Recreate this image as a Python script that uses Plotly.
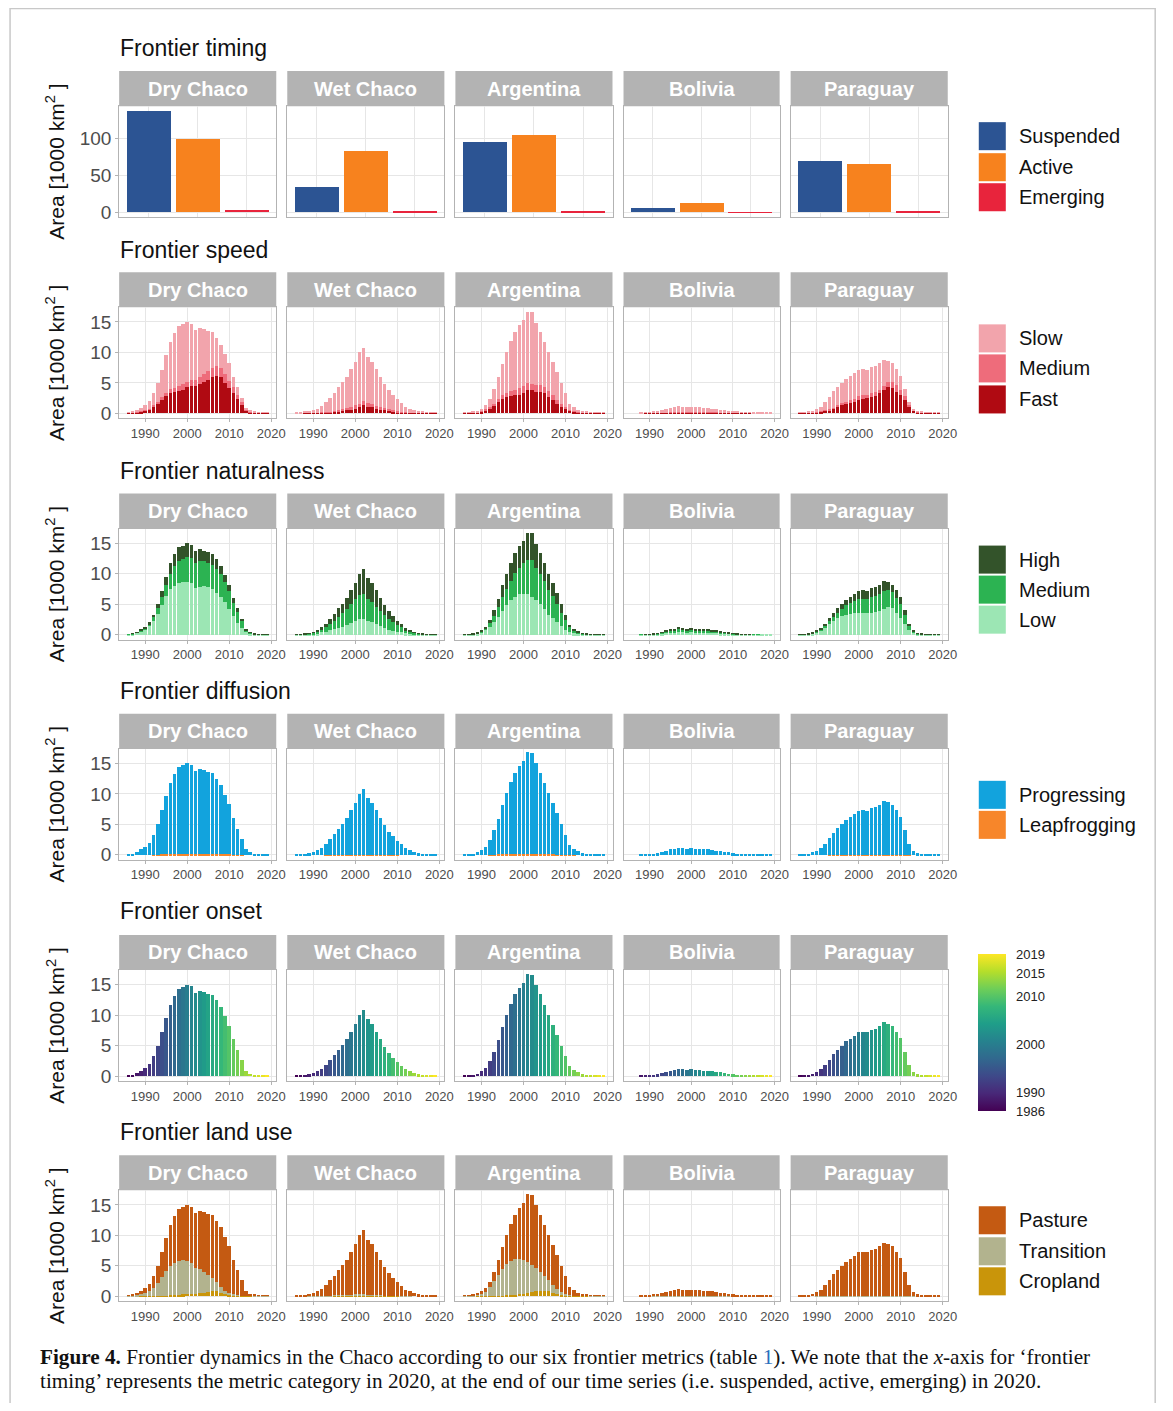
import plotly.graph_objects as go
from plotly.subplots import make_subplots

W, H = 1173, 1411          # browser window
OFF = 8                    # default page margin around the plot div
FW, FH = W - 2 * OFF, H - 2 * OFF
SX, SY = 0.9915, 0.9947    # measured page->picture scale of the photographed page

regions = ["Dry Chaco", "Wet Chaco", "Argentina", "Bolivia", "Paraguay"]
years = list(range(1986, 2020))

# ---------------- Frontier timing (category in 2020) ----------------
timing_categories = ["Suspended", "Active", "Emerging"]
timing_suspended = [136.5, 34, 95, 6, 68.5]
timing_active = [99, 82, 104, 12, 65.5]
timing_emerging = [3, 0.8, 0.8, 0.1, 2.2]

# ---------------- Total frontier area per year (1000 km2) ----------------
total_dry = [0.1,0.2,0.5,0.9,1.3,2.0,3.3,5.0,7.2,9.5,11.7,13.2,14.3,14.6,15.0,14.7,13.7,14.0,13.8,13.5,13.3,12.4,11.3,9.8,8.2,6.0,4.3,2.6,0.9,0.4,0.2,0.1,0.1,0.1]
total_wet = [0.05,0.1,0.2,0.3,0.5,0.8,1.2,1.8,2.6,3.4,4.3,5.1,6.0,7.3,8.5,10.0,10.8,9.3,8.5,7.3,6.0,4.8,3.8,3.0,2.3,1.7,1.1,0.8,0.5,0.3,0.2,0.1,0.1,0.1]
total_arg = [0.05,0.1,0.2,0.4,0.8,1.3,2.4,4.0,5.9,8.1,10.0,11.8,13.4,14.5,15.3,16.7,16.6,14.9,13.4,11.7,10.0,8.4,6.8,5.0,3.3,1.6,1.0,0.6,0.3,0.2,0.1,0.1,0.1,0.1]
total_bol = [0,0,0.02,0.05,0.1,0.2,0.3,0.5,0.7,0.9,1.0,1.2,1.1,1.0,1.1,1.0,1.0,0.9,0.9,0.8,0.7,0.6,0.5,0.4,0.3,0.2,0.1,0.05,0.1,0.03,0.02,0.01,0.01,0.01]
total_par = [0.05,0.1,0.2,0.4,0.7,1.1,1.8,2.7,3.6,4.3,5.0,5.7,6.1,6.6,7.2,7.3,7.2,7.6,7.8,8.2,8.8,8.6,8.2,7.3,6.2,4.0,1.8,0.7,0.3,0.2,0.1,0.1,0.1,0.05]

# ---------------- Frontier speed ----------------
speed_fast_dry = [0.02,0.05,0.15,0.25,0.35,0.6,1.0,1.5,2.2,2.8,3.3,3.5,3.7,3.9,4.3,4.5,4.5,4.9,5.2,5.5,6.0,6.1,5.9,5.0,4.1,3.4,2.3,1.3,0.4,0.1,0.05,0.02,0.02,0.02]
speed_medium_dry = [0.02,0.03,0.05,0.1,0.15,0.2,0.3,0.4,0.5,0.6,0.7,0.7,0.8,0.9,0.9,0.9,1.0,1.1,1.3,1.4,1.5,1.6,1.5,1.4,1.2,1.0,0.8,0.5,0.2,0.1,0.05,0.02,0.02,0.02]
speed_slow_dry = [0.06,0.12,0.3,0.55,0.8,1.2,2.0,3.1,4.5,6.1,7.7,9.0,9.8,9.8,9.8,9.3,8.2,8.0,7.3,6.6,5.8,4.7,3.9,3.4,2.9,1.6,1.2,0.8,0.3,0.2,0.1,0.06,0.06,0.06]

speed_fast_wet = [0,0,0.01,0.02,0.03,0.05,0.08,0.1,0.15,0.2,0.3,0.4,0.5,0.6,0.8,1.0,1.4,1.1,1.0,0.8,0.6,0.5,0.35,0.25,0.15,0.1,0.07,0.05,0.03,0.02,0.01,0.01,0.01,0.01]
speed_medium_wet = [0,0,0.01,0.02,0.03,0.05,0.07,0.1,0.15,0.2,0.25,0.3,0.35,0.4,0.5,0.6,0.6,0.55,0.5,0.45,0.4,0.35,0.3,0.25,0.2,0.15,0.1,0.07,0.05,0.03,0.02,0.01,0.01,0.01]
speed_slow_wet = [0.05,0.1,0.18,0.26,0.44,0.7,1.05,1.6,2.3,3.0,3.75,4.4,5.15,6.3,7.2,8.4,8.8,7.65,7.0,6.05,5.0,3.95,3.15,2.5,1.95,1.45,0.93,0.68,0.42,0.25,0.17,0.08,0.08,0.08]

speed_fast_arg = [0.01,0.02,0.05,0.1,0.3,0.5,0.8,1.2,1.9,2.4,2.7,2.8,3.0,3.1,3.4,3.8,3.8,3.5,3.5,3.3,2.7,2.2,1.5,1.1,0.65,0.4,0.2,0.1,0.05,0.03,0.02,0.01,0.01,0.01]
speed_medium_arg = [0.01,0.02,0.03,0.05,0.1,0.15,0.25,0.4,0.5,0.6,0.7,0.8,0.8,1.0,1.1,1.2,1.1,1.2,1.1,1.0,1.0,0.8,0.7,0.5,0.35,0.2,0.15,0.1,0.05,0.03,0.02,0.01,0.01,0.01]
speed_slow_arg = [0.03,0.06,0.12,0.25,0.4,0.65,1.35,2.4,3.5,5.1,6.6,8.2,9.6,10.4,10.8,11.7,11.7,10.2,8.8,7.4,6.3,5.4,4.6,3.4,2.3,1.0,0.65,0.4,0.2,0.14,0.06,0.08,0.08,0.08]

speed_fast_bol = [0,0,0,0.01,0.01,0.02,0.03,0.05,0.07,0.1,0.12,0.15,0.15,0.15,0.15,0.15,0.15,0.12,0.12,0.1,0.1,0.08,0.07,0.05,0.04,0.03,0.02,0.01,0.01,0,0,0,0,0]
speed_medium_bol = [0,0,0,0.01,0.01,0.02,0.03,0.04,0.05,0.07,0.08,0.1,0.1,0.1,0.1,0.1,0.1,0.08,0.08,0.07,0.06,0.05,0.04,0.03,0.03,0.02,0.01,0.01,0.01,0,0,0,0,0]
speed_slow_bol = [0,0,0.02,0.03,0.08,0.16,0.24,0.41,0.58,0.73,0.8,0.95,0.85,0.75,0.85,0.75,0.75,0.7,0.7,0.63,0.54,0.47,0.39,0.32,0.23,0.15,0.07,0.03,0.08,0.03,0.02,0.01,0.01,0.01]

speed_fast_par = [0.01,0.02,0.04,0.08,0.15,0.25,0.35,0.5,0.7,1.0,1.3,1.5,1.7,1.9,2.2,2.4,2.5,2.7,2.9,3.3,3.8,4.3,4.2,3.5,3.0,2.2,1.1,0.4,0.15,0.08,0.04,0.03,0.03,0.02]
speed_medium_par = [0.01,0.02,0.03,0.05,0.08,0.1,0.15,0.2,0.25,0.3,0.35,0.4,0.45,0.5,0.6,0.6,0.6,0.6,0.6,0.6,0.7,0.9,1.0,1.2,0.9,0.7,0.3,0.1,0.05,0.03,0.02,0.01,0.01,0.01]
speed_slow_par = [0.03,0.06,0.13,0.27,0.47,0.75,1.3,2.0,2.65,3.0,3.35,3.8,3.95,4.2,4.4,4.3,4.1,4.3,4.3,4.3,4.3,3.4,3.0,2.6,2.3,1.1,0.4,0.2,0.1,0.09,0.04,0.06,0.06,0.02]

# ---------------- Frontier naturalness ----------------
nat_low_dry = [0.08,0.15,0.35,0.6,0.9,1.4,2.3,3.4,4.9,6.4,7.5,8.0,8.4,8.6,8.7,8.4,7.7,7.8,7.9,7.8,7.5,6.9,6.2,5.3,4.2,3.1,1.9,1.1,0.4,0.2,0.1,0.05,0.05,0.05]
nat_medium_dry = [0.02,0.03,0.07,0.18,0.25,0.4,0.6,0.9,1.3,1.8,2.5,3.3,3.7,3.8,4.1,4.2,4.1,4.2,4.1,3.9,4.0,3.9,3.7,3.3,2.9,2.1,1.8,1.1,0.4,0.15,0.07,0.03,0.03,0.03]
nat_high_dry = [0.0,0.02,0.08,0.12,0.15,0.2,0.4,0.7,1.0,1.3,1.7,1.9,2.2,2.2,2.2,2.1,1.9,2.0,1.8,1.8,1.8,1.6,1.4,1.2,1.1,0.8,0.6,0.4,0.1,0.05,0.03,0.02,0.02,0.02]

nat_low_wet = [0.02,0.04,0.07,0.1,0.15,0.25,0.35,0.5,0.7,0.9,1.1,1.3,1.6,1.9,2.3,2.5,2.5,2.2,2.0,1.7,1.4,1.1,0.8,0.6,0.45,0.35,0.2,0.15,0.1,0.05,0.04,0.02,0.02,0.02]
nat_medium_wet = [0.02,0.04,0.08,0.12,0.2,0.3,0.45,0.7,1.0,1.4,1.8,2.2,2.6,3.1,3.5,4.0,4.2,3.6,3.3,2.9,2.5,2.1,1.8,1.5,1.15,0.85,0.6,0.4,0.25,0.15,0.1,0.05,0.05,0.05]
nat_high_wet = [0.01,0.02,0.05,0.08,0.15,0.25,0.4,0.6,0.9,1.1,1.4,1.6,1.8,2.3,2.7,3.5,4.1,3.5,3.2,2.7,2.1,1.6,1.2,0.9,0.7,0.5,0.3,0.25,0.15,0.1,0.06,0.03,0.03,0.03]

nat_low_arg = [0.03,0.06,0.12,0.25,0.45,0.7,1.3,2.0,2.9,3.9,4.8,5.6,6.2,6.6,6.7,6.6,6.2,5.7,5.0,4.2,3.3,2.8,2.1,1.4,0.8,0.5,0.3,0.2,0.1,0.07,0.04,0.04,0.04,0.04]
nat_medium_arg = [0.01,0.02,0.04,0.07,0.2,0.35,0.6,1.1,1.6,2.2,2.7,3.2,3.9,4.4,5.0,5.7,6.0,5.3,5.0,4.6,4.1,3.5,2.9,2.2,1.6,0.7,0.45,0.25,0.12,0.08,0.03,0.03,0.03,0.03]
nat_high_arg = [0.01,0.02,0.04,0.08,0.15,0.25,0.5,0.9,1.4,2.0,2.5,3.0,3.3,3.5,3.6,4.4,4.4,3.9,3.4,2.9,2.6,2.1,1.8,1.4,0.9,0.4,0.25,0.15,0.08,0.05,0.03,0.03,0.03,0.03]

nat_low_bol = [0,0,0.01,0.03,0.05,0.1,0.15,0.25,0.35,0.45,0.5,0.55,0.55,0.5,0.55,0.5,0.5,0.45,0.45,0.4,0.35,0.3,0.25,0.2,0.15,0.1,0.05,0.03,0.05,0.02,0.01,0.01,0.01,0.01]
nat_medium_bol = [0,0,0.01,0.01,0.03,0.05,0.08,0.13,0.18,0.23,0.25,0.3,0.28,0.25,0.28,0.25,0.25,0.23,0.23,0.2,0.18,0.15,0.13,0.1,0.08,0.05,0.03,0.01,0.03,0.01,0.01,0,0,0]
nat_high_bol = [0,0,0,0.01,0.02,0.05,0.07,0.12,0.17,0.22,0.25,0.35,0.27,0.25,0.27,0.25,0.25,0.22,0.22,0.2,0.17,0.15,0.12,0.1,0.07,0.05,0.02,0.01,0.02,0,0,0,0,0]

nat_low_par = [0.03,0.06,0.12,0.25,0.45,0.7,1.1,1.7,2.3,2.8,3.0,3.3,3.4,3.5,3.6,3.6,3.5,3.6,3.7,3.9,4.2,4.6,4.4,3.6,2.8,1.7,0.8,0.35,0.15,0.1,0.05,0.05,0.05,0.03]
nat_medium_par = [0.01,0.02,0.04,0.07,0.12,0.2,0.35,0.5,0.65,0.8,1.2,1.5,1.8,2.0,2.2,2.3,2.4,2.6,2.7,2.7,3.0,2.8,2.6,2.4,2.2,1.6,0.7,0.2,0.08,0.05,0.03,0.03,0.03,0.01]
nat_high_par = [0.01,0.02,0.04,0.08,0.13,0.2,0.35,0.5,0.65,0.7,0.8,0.9,0.9,1.1,1.4,1.4,1.3,1.4,1.4,1.6,1.6,1.2,1.2,1.3,1.2,0.7,0.3,0.15,0.07,0.05,0.02,0.02,0.02,0.01]

# ---------------- Frontier diffusion ----------------
diff_leap_dry = [0,0,0,0,0,0,0.02,0.05,0.08,0.1,0.12,0.12,0.12,0.12,0.12,0.12,0.12,0.12,0.12,0.12,0.12,0.12,0.1,0.08,0.06,0.04,0.02,0.01,0,0,0,0,0,0]
diff_leap_wet = [0,0,0,0,0,0,0,0.01,0.01,0.02,0.02,0.03,0.03,0.03,0.03,0.03,0.03,0.03,0.03,0.02,0.02,0.02,0.01,0.01,0.01,0,0,0,0,0,0,0,0,0]
diff_leap_arg = [0,0,0,0,0,0,0.02,0.04,0.06,0.08,0.1,0.1,0.1,0.1,0.1,0.1,0.1,0.1,0.1,0.08,0.08,0.06,0.05,0.04,0.03,0.02,0.01,0,0,0,0,0,0,0]
diff_leap_bol = [0]*34
diff_leap_par = [0,0,0,0,0,0,0,0.01,0.02,0.03,0.03,0.04,0.04,0.04,0.04,0.04,0.04,0.04,0.04,0.04,0.04,0.04,0.04,0.03,0.03,0.02,0.01,0,0,0,0,0,0,0]

# ---------------- Frontier land use ----------------
land_crop_dry = [0,0,0,0.01,0.02,0.03,0.05,0.07,0.1,0.12,0.15,0.2,0.25,0.3,0.35,0.4,0.45,0.5,0.6,0.7,0.8,0.8,0.6,0.4,0.25,0.15,0.08,0.05,0.02,0.01,0,0,0,0]
land_trans_dry = [0.02,0.05,0.15,0.29,0.48,0.77,1.35,2.13,3.1,4.08,4.85,5.3,5.55,5.6,5.45,5.0,4.25,3.9,3.4,2.8,2.2,1.5,0.9,0.5,0.25,0.15,0.07,0.05,0.03,0.01,0.01,0.01,0.01,0.01]
land_past_dry = [0.08,0.15,0.35,0.6,0.8,1.2,1.9,2.8,4.0,5.3,6.7,7.7,8.5,8.7,9.2,9.3,9.0,9.6,9.8,10.0,10.3,10.1,9.8,8.9,7.7,5.7,4.15,2.5,0.85,0.38,0.19,0.09,0.09,0.09]

land_crop_wet = [0,0,0,0,0,0,0,0,0,0.01,0.01,0.01,0.02,0.02,0.02,0.03,0.03,0.03,0.03,0.03,0.02,0.02,0.02,0.01,0.01,0,0,0,0,0,0,0,0,0]
land_trans_wet = [0,0,0,0.01,0.02,0.03,0.05,0.07,0.1,0.12,0.15,0.2,0.22,0.25,0.28,0.3,0.3,0.25,0.2,0.15,0.12,0.1,0.08,0.05,0.03,0.02,0.01,0.01,0,0,0,0,0,0]
land_past_wet = [0.05,0.1,0.2,0.29,0.48,0.77,1.15,1.73,2.5,3.27,4.14,4.89,5.76,7.03,8.2,9.67,10.47,9.02,8.27,7.12,5.86,4.68,3.7,2.94,2.26,1.68,1.09,0.79,0.5,0.3,0.2,0.1,0.1,0.1]

land_crop_arg = [0,0,0,0.01,0.02,0.03,0.05,0.07,0.1,0.12,0.15,0.2,0.25,0.35,0.45,0.55,0.65,0.8,0.85,0.9,0.8,0.6,0.4,0.25,0.15,0.08,0.05,0.03,0.02,0.01,0,0,0,0]
land_trans_arg = [0.02,0.05,0.1,0.19,0.38,0.67,1.45,2.43,3.4,4.38,5.15,5.6,5.85,5.75,5.55,5.15,4.55,3.8,3.15,2.4,1.8,1.2,0.8,0.45,0.25,0.12,0.05,0.03,0.01,0.01,0.01,0.01,0.01,0.01]
land_past_arg = [0.03,0.05,0.1,0.2,0.4,0.6,0.9,1.5,2.4,3.6,4.7,6.0,7.3,8.4,9.3,11.0,11.4,10.3,9.4,8.4,7.4,6.6,5.6,4.3,2.9,1.4,0.9,0.54,0.27,0.18,0.09,0.09,0.09,0.09]

land_crop_bol = [0]*34
land_trans_bol = [0,0,0,0,0,0.01,0.01,0.01,0.02,0.02,0.02,0.02,0.02,0.02,0.02,0.02,0.02,0.02,0.02,0.01,0.01,0.01,0.01,0.01,0,0,0,0,0,0,0,0,0,0]
land_past_bol = [0,0,0.02,0.05,0.1,0.19,0.29,0.49,0.68,0.88,0.98,1.18,1.08,0.98,1.08,0.98,0.98,0.88,0.88,0.79,0.69,0.59,0.49,0.39,0.3,0.2,0.1,0.05,0.1,0.03,0.02,0.01,0.01,0.01]

land_crop_par = [0]*34
land_trans_par = [0,0,0,0,0.01,0.02,0.03,0.05,0.06,0.08,0.1,0.1,0.1,0.1,0.1,0.1,0.1,0.1,0.1,0.1,0.1,0.1,0.1,0.08,0.06,0.04,0.02,0.01,0,0,0,0,0,0]
land_past_par = [0.05,0.1,0.2,0.4,0.69,1.08,1.77,2.65,3.54,4.22,4.9,5.6,6.0,6.5,7.1,7.2,7.1,7.5,7.7,8.1,8.7,8.5,8.1,7.22,6.14,3.96,1.78,0.69,0.3,0.2,0.1,0.1,0.1,0.05]

# colour-bar ticks for the onset year scale
onset_ticks = [1986, 1990, 2000, 2010, 2015, 2019]

# ---------------- assemble per region ----------------
totals = dict(zip(regions, [total_dry, total_wet, total_arg, total_bol, total_par]))
speed = {
    "Dry Chaco": (speed_fast_dry, speed_medium_dry, speed_slow_dry),
    "Wet Chaco": (speed_fast_wet, speed_medium_wet, speed_slow_wet),
    "Argentina": (speed_fast_arg, speed_medium_arg, speed_slow_arg),
    "Bolivia": (speed_fast_bol, speed_medium_bol, speed_slow_bol),
    "Paraguay": (speed_fast_par, speed_medium_par, speed_slow_par),
}
nat = {
    "Dry Chaco": (nat_low_dry, nat_medium_dry, nat_high_dry),
    "Wet Chaco": (nat_low_wet, nat_medium_wet, nat_high_wet),
    "Argentina": (nat_low_arg, nat_medium_arg, nat_high_arg),
    "Bolivia": (nat_low_bol, nat_medium_bol, nat_high_bol),
    "Paraguay": (nat_low_par, nat_medium_par, nat_high_par),
}
leap = dict(zip(regions, [diff_leap_dry, diff_leap_wet, diff_leap_arg, diff_leap_bol, diff_leap_par]))
land = {
    "Dry Chaco": (land_crop_dry, land_trans_dry, land_past_dry),
    "Wet Chaco": (land_crop_wet, land_trans_wet, land_past_wet),
    "Argentina": (land_crop_arg, land_trans_arg, land_past_arg),
    "Bolivia": (land_crop_bol, land_trans_bol, land_past_bol),
    "Paraguay": (land_crop_par, land_trans_par, land_past_par),
}

C_TIMING = ["#2C5493", "#F7821E", "#E8243C"]
C_SPEED = {"Fast": "#B00A12", "Medium": "#EE6C7B", "Slow": "#F2A4AC"}
C_NAT = {"Low": "#9CE6B4", "Medium": "#2CB352", "High": "#33532A"}
C_DIFF = {"Leapfrogging": "#F7862A", "Progressing": "#12A3DD"}
C_LAND = {"Cropland": "#C9950A", "Transition": "#B2B38E", "Pasture": "#C45A12"}

BAR_W = 0.82

# ---------------- layout geometry (picture pixels) ----------------
cols_px = [(119, 276), (287, 444), (455, 612), (623, 779), (790, 947)]
rows_px = [(106, 217), (307, 418), (528, 639), (748, 859), (969, 1080), (1189, 1300)]
strip_h = 35
row_titles = ["Frontier timing", "Frontier speed", "Frontier naturalness",
              "Frontier diffusion", "Frontier onset", "Frontier land use"]
row_title_y = [48, 250, 470, 690, 910, 1131]
CB_X0, CB_X1, CB_TOP, CB_BOT = 977, 1005, 953, 1110

fig = make_subplots(rows=6, cols=5)

def px2x(p):
    return (p / SX - OFF) / FW

def px2y(p):
    return 1 - (p / SY - OFF) / FH

FONT = "Liberation Sans, Arial, sans-serif"
GRID = "#E6E6E6"
BORDER = "#B3B3B3"

# ---- traces ----
for ci, reg in enumerate(regions):
    c = ci + 1
    vals = [timing_suspended[ci], timing_active[ci], timing_emerging[ci]]
    for k, cat in enumerate(timing_categories):
        fig.add_trace(go.Bar(x=[cat], y=[vals[k]], width=0.9, marker=dict(color=C_TIMING[k], line=dict(width=0)),
                             showlegend=False, name=cat), row=1, col=c)
    f, m, s = speed[reg]
    for name, arr in (("Fast", f), ("Medium", m), ("Slow", s)):
        fig.add_trace(go.Bar(x=years, y=arr, width=BAR_W, marker=dict(color=C_SPEED[name], line=dict(width=0)),
                             showlegend=False, name=name), row=2, col=c)
    lo, me, hi = nat[reg]
    for name, arr in (("Low", lo), ("Medium", me), ("High", hi)):
        fig.add_trace(go.Bar(x=years, y=arr, width=BAR_W, marker=dict(color=C_NAT[name], line=dict(width=0)),
                             showlegend=False, name=name), row=3, col=c)
    fig.add_trace(go.Bar(x=years, y=leap[reg], width=BAR_W, marker=dict(color=C_DIFF["Leapfrogging"], line=dict(width=0)),
                         showlegend=False, name="Leapfrogging"), row=4, col=c)
    fig.add_trace(go.Bar(x=years, y=totals[reg], width=BAR_W, marker=dict(color=C_DIFF["Progressing"], line=dict(width=0)),
                         showlegend=False, name="Progressing"), row=4, col=c)
    marker = dict(color=years, colorscale="Viridis", cmin=1986, cmax=2019, line=dict(width=0))
    if ci == 0:
        y_top, y_bot = px2y(CB_TOP), px2y(CB_BOT)
        marker.update(showscale=True, colorbar=dict(
            x=px2x(CB_X0), xanchor="left", xpad=0, ypad=0,
            y=(y_top + y_bot) / 2, yanchor="middle", len=(y_top - y_bot), lenmode="fraction",
            thickness=28, thicknessmode="pixels", outlinewidth=0,
            tickvals=onset_ticks,
            ticks="outside", ticklen=8, tickcolor="rgba(255,255,255,0)", tickwidth=1,
            tickfont=dict(family=FONT, size=13, color="#222222")))
    else:
        marker.update(showscale=False)
    fig.add_trace(go.Bar(x=years, y=totals[reg], width=BAR_W, marker=marker, showlegend=False, name="Onset"),
                  row=5, col=c)
    cr, tr, pa = land[reg]
    for name, arr in (("Cropland", cr), ("Transition", tr), ("Pasture", pa)):
        fig.add_trace(go.Bar(x=years, y=arr, width=BAR_W, marker=dict(color=C_LAND[name], line=dict(width=0)),
                             showlegend=False, name=name), row=6, col=c)

# ---- axes ----
for ri in range(6):
    r = ri + 1
    top, bot = rows_px[ri]
    for ci in range(5):
        c = ci + 1
        x0, x1 = cols_px[ci]
        common = dict(showline=True, mirror=True, linecolor=BORDER, linewidth=1,
                      gridcolor=GRID, gridwidth=1, zeroline=False)
        if ri == 0:
            fig.update_xaxes(domain=[px2x(x0), px2x(x1)], type="category",
                             categoryorder="array", categoryarray=timing_categories,
                             range=[-0.6, 2.6], showticklabels=False, ticks="", **common, row=r, col=c)
            fig.update_yaxes(domain=[px2y(bot), px2y(top)], range=[-6.8, 143.2],
                             tickvals=[0, 50, 100], showticklabels=(ci == 0),
                             ticks="outside" if ci == 0 else "", ticklen=3, tickcolor=BORDER,
                             tickfont=dict(family=FONT, size=19, color="#4D4D4D"), **common, row=r, col=c)
        else:
            fig.update_xaxes(domain=[px2x(x0), px2x(x1)], range=[1983.8, 2021.2],
                             tickvals=[1990, 2000, 2010, 2020], ticks="outside", ticklen=3, tickcolor=BORDER,
                             tickfont=dict(family=FONT, size=13, color="#4D4D4D"), **common, row=r, col=c)
            fig.update_yaxes(domain=[px2y(bot), px2y(top)], range=[-0.83, 17.4],
                             tickvals=[0, 5, 10, 15], showticklabels=(ci == 0),
                             ticks="outside" if ci == 0 else "", ticklen=3, tickcolor=BORDER,
                             tickfont=dict(family=FONT, size=19, color="#4D4D4D"), **common, row=r, col=c)

shapes = []
annotations = []

# frame
shapes.append(dict(type="rect", xref="paper", yref="paper", x0=px2x(10), x1=min(px2x(1165), 0.9993),
                   y0=-0.05, y1=px2y(8.5), line=dict(color="#C8C8C8", width=1.5), fillcolor="rgba(0,0,0,0)"))

# small white tick marks inside the colour bar (both edges)
for v in onset_ticks:
    yp = CB_BOT - (v - 1986) / (2019 - 1986) * (CB_BOT - CB_TOP)
    for xa, xb in ((CB_X0, CB_X0 + 5), (CB_X1 - 5, CB_X1)):
        shapes.append(dict(type="line", xref="paper", yref="paper", x0=px2x(xa), x1=px2x(xb),
                           y0=px2y(yp), y1=px2y(yp), line=dict(color="rgba(255,255,255,0.8)", width=1)))

for ri in range(6):
    top, bot = rows_px[ri]
    for ci, reg in enumerate(regions):
        x0, x1 = cols_px[ci]
        shapes.append(dict(type="rect", xref="paper", yref="paper", x0=px2x(x0), x1=px2x(x1),
                           y0=px2y(top), y1=px2y(top - strip_h), fillcolor="#B3B3B3", line=dict(width=0),
                           layer="below"))
        annotations.append(dict(xref="paper", yref="paper", x=px2x((x0 + x1) / 2), y=px2y(top - strip_h / 2),
                                text="<b>%s</b>" % reg, showarrow=False, xanchor="center", yanchor="middle",
                                font=dict(family=FONT, size=20, color="white")))
    annotations.append(dict(xref="paper", yref="paper", x=px2x(118), y=px2y(row_title_y[ri]),
                            text=row_titles[ri], showarrow=False, xanchor="left", yanchor="middle",
                            font=dict(family=FONT, size=23, color="#111111")))
    annotations.append(dict(xref="paper", yref="paper", x=px2x(55), y=px2y((top + bot) / 2),
                            text="Area [1000 km<sup>2</sup> ]", textangle=-90, showarrow=False,
                            xanchor="center", yanchor="middle",
                            font=dict(family=FONT, size=21, color="#111111")))

legend_items = [
    [("Suspended", C_TIMING[0], 136), ("Active", C_TIMING[1], 167), ("Emerging", C_TIMING[2], 197)],
    [("Slow", C_SPEED["Slow"], 338), ("Medium", C_SPEED["Medium"], 368), ("Fast", C_SPEED["Fast"], 399)],
    [("High", C_NAT["High"], 559), ("Medium", C_NAT["Medium"], 589), ("Low", C_NAT["Low"], 619)],
    [("Progressing", C_DIFF["Progressing"], 794), ("Leapfrogging", C_DIFF["Leapfrogging"], 824)],
    [("Pasture", C_LAND["Pasture"], 1219), ("Transition", C_LAND["Transition"], 1250), ("Cropland", C_LAND["Cropland"], 1280)],
]
for group in legend_items:
    for label, col, yc in group:
        shapes.append(dict(type="rect", xref="paper", yref="paper", x0=px2x(978), x1=px2x(1005),
                           y0=px2y(yc + 14), y1=px2y(yc - 14), fillcolor=col, line=dict(width=0)))
        annotations.append(dict(xref="paper", yref="paper", x=px2x(1016), y=px2y(yc), text=label,
                                showarrow=False, xanchor="left", yanchor="middle",
                                font=dict(family=FONT, size=20, color="#111111")))

SERIF = "Liberation Serif, Times New Roman, serif"
annotations.append(dict(xref="paper", yref="paper", x=px2x(38), y=px2y(1356), xanchor="left", yanchor="middle",
                        showarrow=False, align="left",
                        text="<b>Figure 4.</b> Frontier dynamics in the Chaco according to our six frontier metrics (table "
                             "<span style='color:#2A6EBB'>1</span>). We note that the <i>x</i>-axis for ‘frontier",
                        font=dict(family=SERIF, size=21.2, color="#111111")))
annotations.append(dict(xref="paper", yref="paper", x=px2x(38), y=px2y(1380), xanchor="left", yanchor="middle",
                        showarrow=False, align="left",
                        text="timing’ represents the metric category in 2020, at the end of our time series "
                             "(i.e. suspended, active, emerging) in 2020.",
                        font=dict(family=SERIF, size=21.2, color="#111111")))

fig.update_layout(width=FW, height=FH, margin=dict(l=0, r=0, t=0, b=0), autosize=False,
                  paper_bgcolor="white", plot_bgcolor="white", barmode="stack",
                  showlegend=False, shapes=shapes, annotations=annotations,
                  font=dict(family=FONT))

fig.write_html("out.html")
